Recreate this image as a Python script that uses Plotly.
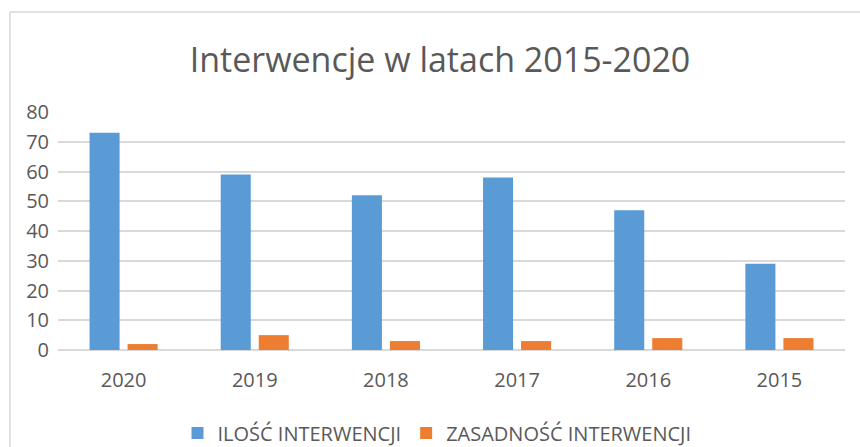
import plotly.graph_objects as go

years = ["2020", "2019", "2018", "2017", "2016", "2015"]
ilosc = [73, 59, 52, 58, 47, 29]
zasadnosc = [2, 5, 3, 3, 4, 4]
y_ticks = [0, 10, 20, 30, 40, 50, 60, 70, 80]

FONT = "Open Sans"
GREY = "#595959"

fig = go.Figure()
fig.add_trace(go.Bar(x=years, y=ilosc, name="ILOŚĆ INTERWENCJI", marker_color="#5b9bd5", marker_line_width=0))
fig.add_trace(go.Bar(x=years, y=zasadnosc, name="ZASADNOŚĆ INTERWENCJI", marker_color="#ed7d31", marker_line_width=0))

fig.update_layout(
    width=860, height=447,
    margin=dict(l=58, r=15, t=112, b=97),
    paper_bgcolor="white", plot_bgcolor="white",
    barmode="group", bargap=0.42, bargroupgap=0.21,
    title=dict(text="Interwencje w latach 2015-2020", x=440 / 860, xanchor="center",
               y=1 - 60 / 447, yanchor="middle",
               font=dict(family=FONT, size=34, color=GREY)),
    font=dict(family=FONT, color=GREY),
    showlegend=True,
    legend=dict(orientation="h", x=437 / 860, xanchor="center", xref="container",
                y=1 - 433 / 447, yanchor="middle", yref="container",
                font=dict(family=FONT, size=20, color=GREY), itemwidth=30,
                traceorder="normal"),
    xaxis=dict(showgrid=False, showline=False, ticks="", tickfont=dict(size=20, color=GREY),
               ticklabelstandoff=16),
    yaxis=dict(range=[0, 80], tickvals=y_ticks, showgrid=True, gridcolor="#d9d9d9", gridwidth=1.5,
               zeroline=True, zerolinecolor="#d9d9d9", zerolinewidth=1.5,
               tickfont=dict(size=20, color=GREY), ticks="", ticklabelstandoff=8),
    shapes=[
        dict(type="line", xref="paper", yref="paper", x0=(10 - 58) / 787, x1=1.05,
             y0=(350 - 12) / 238, y1=(350 - 12) / 238, line=dict(color="#d9d9d9", width=1.5)),
        dict(type="line", xref="paper", yref="paper", x0=(10 - 58) / 787, x1=(10 - 58) / 787,
             y0=(350 - 12) / 238, y1=-0.5, line=dict(color="#d9d9d9", width=1.5)),
    ],
)

fig.write_html("out.html", config={"displayModeBar": False},
               post_script="document.body.style.margin='0';document.body.style.overflow='hidden';")
